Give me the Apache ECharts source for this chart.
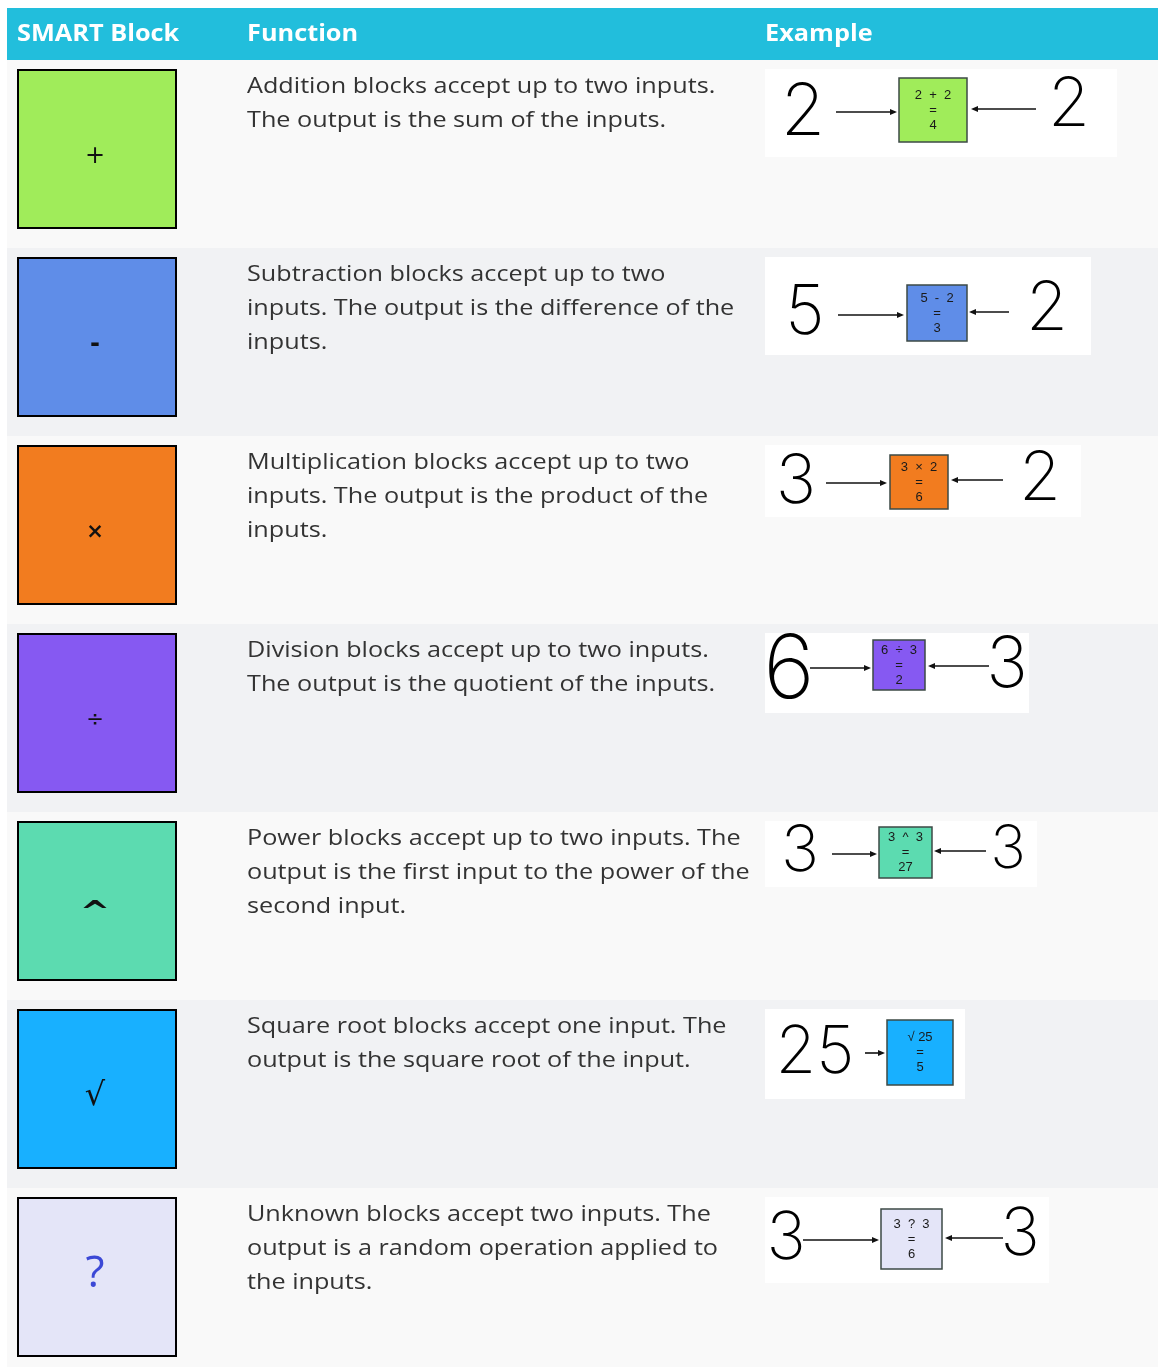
<!DOCTYPE html>
<html><head><meta charset="utf-8">
<script src="https://cdn.jsdelivr.net/npm/echarts@6/dist/echarts.min.js"></script>
<style>html,body{margin:0;padding:0;background:#fff;overflow:hidden}#c{width:1158px;height:1380px}</style>
</head><body><div id="c"></div>
<script>
// ---- data ----
const columnTitles = ['SMART Block', 'Function', 'Example'];
const blockNames = ['Addition', 'Subtraction', 'Multiplication', 'Division', 'Power', 'Square root', 'Unknown'];
const blockSymbols = ['+', '-', '×', '÷', '^', '√', '?'];
const functionText = [
  'Addition blocks accept up to two inputs.\nThe output is the sum of the inputs.',
  'Subtraction blocks accept up to two\ninputs. The output is the difference of the\ninputs.',
  'Multiplication blocks accept up to two\ninputs. The output is the product of the\ninputs.',
  'Division blocks accept up to two inputs.\nThe output is the quotient of the inputs.',
  'Power blocks accept up to two inputs. The\noutput is the first input to the power of the\nsecond input.',
  'Square root blocks accept one input. The\noutput is the square root of the input.',
  'Unknown blocks accept two inputs. The\noutput is a random operation applied to\nthe inputs.'
];
const exampleLeft = ['2', '5', '3', '6', '3', '25', '3'];
const exampleOp = ['2  +  2', '5  -  2', '3  ×  2', '6  ÷  3', '3  ^  3', '√ 25', '3  ?  3'];
const exampleResult = ['4', '3', '6', '2', '27', '5', '6'];
const exampleRight = ['2', '2', '2', '3', '3', '', '3'];

// ---- styles / layout ----
const blockColors = ['#a0ec5a', '#5f8de8', '#f27c1f', '#8659f2', '#5cdbb0', '#18b0ff', '#e4e5f8'];
const rowBg = ['#f9f9f9', '#f1f2f4'];
const textFont = 'Open Sans';
const textStretch = 1.12;
// per-row example layout (px; x page-absolute, y relative to row top)
const exLayout = [
  {w:352,h:88, bx:899,bw:68,by:18,bh:64, lx:803,ly:53,ls:72, a1:[836,897,52], a2:[1036,971,49], rx:1069,ry:46,rs:68},
  {w:326,h:98, bx:907,bw:60,by:37,bh:56, lx:805,ly:66,ls:68, a1:[838,904,67], a2:[1009,969,64], rx:1047,ry:62,rs:68},
  {w:316,h:72, bx:890,bw:58,by:19,bh:54, lx:796,ly:47,ls:68, a1:[826,887,47], a2:[1003,951,44], rx:1040,ry:44,rs:68},
  {w:264,h:80, bx:873,bw:52,by:16,bh:50, lx:789,ly:48,ls:88, a1:[810,871,44], a2:[989,928,42], rx:1007,ry:42,rs:70},
  {w:272,h:66, bx:879,bw:53,by:15,bh:51, lx:800,ly:40,ls:64, a1:[832,877,42], a2:[986,934,39], rx:1008,ry:38,rs:60},
  {w:200,h:90, bx:887,bw:66,by:20,bh:65, lx:815,ly:53,ls:66, a1:[865,885,53], a2:null, rx:0,ry:0,rs:0},
  {w:284,h:86, bx:881,bw:61,by:21,bh:60, lx:786,ly:51,ls:66, a1:[803,879,52], a2:[1003,945,50], rx:1020,ry:47,rs:66}
];
const symbolStyle = [
  {size:24, dy:8, color:'#111', family:'DejaVu Sans', weight:'normal'},
  {size:24, dy:8, color:'#111', family:'DejaVu Sans', weight:'bold'},
  {size:21, dy:8, color:'#111', family:'DejaVu Sans', weight:'bold'},
  {size:21, dy:8, color:'#111', family:'DejaVu Sans', weight:'normal'},
  {size:28, dy:13, color:'#111', family:'DejaVu Sans', weight:'bold'},
  {size:32, dy:8, color:'#111', family:'DejaVu Serif', weight:'normal'},
  {size:44, dy:-3, color:'#3b48d6', family:'Open Sans', weight:'normal'}
];

function arrow(x1, x2, y) {
  const d = Math.sign(x2 - x1);
  return [
    {type:'line', shape:{x1:x1, y1:y, x2:x2 - d*3, y2:y}, style:{stroke:'#111', lineWidth:1.6}},
    {type:'polygon', shape:{points:[[x2, y], [x2 - d*7, y - 3], [x2 - d*7, y + 3]]}, style:{fill:'#111'}}
  ];
}

function renderItem(params, api) {
  const i = api.value(1);
  const c = api.coord([0, i]);
  const bandH = api.size([0, 1])[1];
  const gx = c[0];
  const top = c[1] - bandH / 2;
  const W = params.coordSys.width;
  const L = exLayout[i];
  const ox = gx - 7;
  const ch = [];
  ch.push({type:'rect', shape:{x:gx, y:top, width:W, height:bandH}, style:{fill:rowBg[i % 2]}});
  ch.push({type:'rect', shape:{x:gx + 11, y:top + 10, width:158, height:158},
    style:{fill:blockColors[i], stroke:'#000', lineWidth:2}});
  const ss = symbolStyle[i];
  ch.push({type:'text', x:gx + 88, y:top + 89 + ss.dy, scaleX:(i === 4 ? 1.3 : 1), style:{text:blockSymbols[i], fill:ss.color,
    fontSize:ss.size, fontFamily:ss.family, fontWeight:ss.weight, textAlign:'center', textVerticalAlign:'middle'}});
  ch.push({type:'text', x:gx + 240, y:top + 10, scaleX:textStretch, style:{text:functionText[i], fill:'#333',
    fontSize:22.5, lineHeight:34, fontFamily:textFont, textAlign:'left', textVerticalAlign:'top'}});
  ch.push({type:'rect', shape:{x:ox + 765, y:top + 9, width:L.w, height:L.h}, style:{fill:'#fff'}});
  ch.push({type:'rect', shape:{x:ox + L.bx, y:top + L.by, width:L.bw, height:L.bh},
    style:{fill:blockColors[i], stroke:'#3d4a45', lineWidth:1.5}});
  ch.push({type:'text', x:ox + L.bx + L.bw / 2, y:top + L.by + L.bh / 2,
    style:{text:exampleOp[i] + '\n=\n' + exampleResult[i], fill:'#1a1a1a', fontSize:13, lineHeight:15,
      fontFamily:'Liberation Sans', textAlign:'center', textVerticalAlign:'middle'}});
  ch.push({type:'text', x:ox + L.lx, y:top + L.ly, style:{text:exampleLeft[i], fill:'#000',
    fontSize:L.ls, fontFamily:'Inter', fontWeight:200, textAlign:'center', textVerticalAlign:'middle'}});
  arrow(ox + L.a1[0], ox + L.a1[1], top + L.a1[2]).forEach(e => ch.push(e));
  if (L.a2) {
    arrow(ox + L.a2[0], ox + L.a2[1], top + L.a2[2]).forEach(e => ch.push(e));
    ch.push({type:'text', x:ox + L.rx, y:top + L.ry, style:{text:exampleRight[i], fill:'#000',
      fontSize:L.rs, fontFamily:'Inter', fontWeight:200, textAlign:'center', textVerticalAlign:'middle'}});
  }
  return {type:'group', children:ch};
}

const chart = echarts.init(document.getElementById('c'), null, {renderer:'canvas'});
const colX = [17, 247, 765];
chart.setOption({
  backgroundColor:'#fff',
  animation:false,
  grid:{left:7, top:60, width:1151, height:188 * blockNames.length},
  xAxis:{type:'value', min:0, max:1151, show:false},
  yAxis:{type:'category', data:blockNames, inverse:true, show:false},
  graphic:[
    {type:'rect', left:7, top:8, shape:{width:1151, height:52}, style:{fill:'#22bedc'}},
    ...columnTitles.map((t, k) => ({type:'text', x:colX[k], y:34, scaleX:1.1,
      style:{text:t, fill:'#fff', fontSize:23, fontWeight:'bold', fontFamily:textFont, textVerticalAlign:'middle'}}))
  ],
  series:[{
    type:'custom', renderItem:renderItem, clip:false,
    encode:{x:0, y:1},
    data:blockNames.map((n, i) => ({name:n, value:[0, i]}))
  }]
});
</script></body></html>
